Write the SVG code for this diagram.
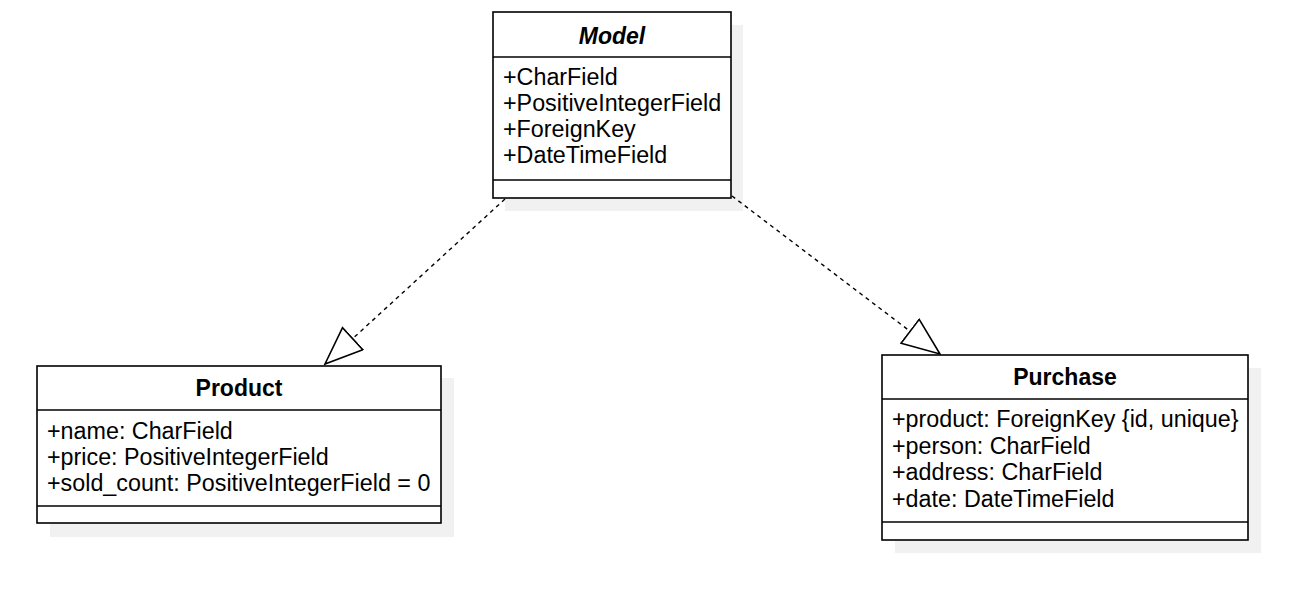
<svg xmlns="http://www.w3.org/2000/svg" width="1303" height="591" viewBox="0 0 1303 591">
<style>
.shadow{fill:#f1f1f1;stroke:none}
.box{fill:#ffffff;stroke:#000000;stroke-width:1.6}
.sep{stroke:#000000;stroke-width:1.6}
.title{font-family:"Liberation Sans",Arial,sans-serif;font-size:23px;font-weight:bold;text-anchor:middle;fill:#000}
.attr{font-family:"Liberation Sans",Arial,sans-serif;font-size:23.3px;fill:#000}
.conn{fill:none;stroke:#000;stroke-width:1.4;stroke-dasharray:4 4}
</style>
<defs>
<marker id="tri" markerUnits="userSpaceOnUse" markerWidth="40" markerHeight="32" viewBox="0 0 40 32" refX="38.5" refY="16" orient="auto">
<path d="M1,1 L38.5,16 L1,31 Z" fill="#ffffff" stroke="#000" stroke-width="1.6"/>
</marker>
</defs>
<rect width="1303" height="591" fill="#ffffff"/>
<g id="model">
<rect class="shadow" x="505" y="25" width="238" height="186"/>
<rect class="box" x="493" y="12" width="238" height="186"/>
<line class="sep" x1="493" y1="57" x2="731" y2="57"/>
<line class="sep" x1="493" y1="180" x2="731" y2="180"/>
<text class="title" x="612" y="44" font-style="italic">Model</text>
<text class="attr" x="503" y="85">+CharField</text>
<text class="attr" x="503" y="111">+PositiveIntegerField</text>
<text class="attr" x="503" y="137">+ForeignKey</text>
<text class="attr" x="503" y="163">+DateTimeField</text>
</g>
<g id="product">
<rect class="shadow" x="50" y="378" width="404" height="159"/>
<rect class="box" x="37" y="366" width="404" height="157"/>
<line class="sep" x1="37" y1="410" x2="441" y2="410"/>
<line class="sep" x1="37" y1="506" x2="441" y2="506"/>
<text class="title" x="239" y="396">Product</text>
<text class="attr" x="47" y="439">+name: CharField</text>
<text class="attr" x="47" y="465">+price: PositiveIntegerField</text>
<text class="attr" x="47" y="491">+sold_count: PositiveIntegerField = 0</text>
</g>
<g id="purchase">
<rect class="shadow" x="895" y="368" width="366" height="185"/>
<rect class="box" x="882" y="355" width="366" height="185"/>
<line class="sep" x1="882" y1="399" x2="1248" y2="399"/>
<line class="sep" x1="882" y1="522" x2="1248" y2="522"/>
<text class="title" x="1065" y="385">Purchase</text>
<text class="attr" x="892" y="427">+product: ForeignKey {id, unique}</text>
<text class="attr" x="892" y="454">+person: CharField</text>
<text class="attr" x="892" y="480">+address: CharField</text>
<text class="attr" x="892" y="507">+date: DateTimeField</text>
</g>
<g id="connectors">
<path class="conn" d="M505,199 L325,364" marker-end="url(#tri)"/>
<path class="conn" d="M732,196 L940,354" marker-end="url(#tri)"/>
</g>
</svg>
